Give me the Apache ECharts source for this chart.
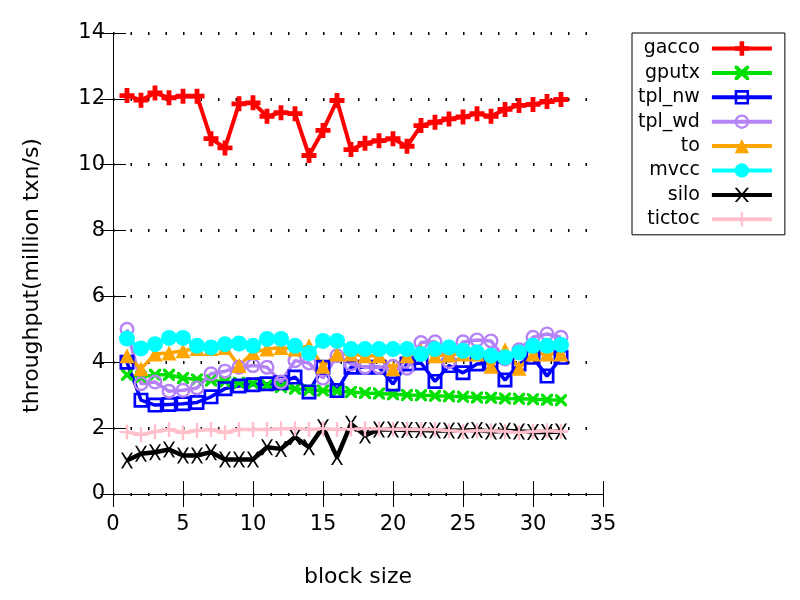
<!DOCTYPE html>
<html>
<head>
<meta charset="utf-8">
<script src="https://cdn.jsdelivr.net/npm/echarts@6/dist/echarts.min.js"></script>
<style>html,body{margin:0;padding:0;background:#fff}#c{width:800px;height:600px}</style>
</head>
<body>
<div id="c"></div>
<script>
const blockSizes = [1,2,3,4,5,6,7,8,9,10,11,12,13,14,15,16,17,18,19,20,21,22,23,24,25,26,27,28,29,30,31,32];
const gacco  = [12.10,11.96,12.18,12.03,12.08,12.08,10.79,10.51,11.85,11.88,11.47,11.58,11.55,10.28,11.04,11.95,10.46,10.65,10.73,10.79,10.56,11.19,11.29,11.39,11.45,11.55,11.47,11.68,11.80,11.83,11.92,11.98];
const gputx  = [3.62,3.55,3.62,3.62,3.52,3.48,3.45,3.42,3.38,3.36,3.30,3.25,3.20,3.16,3.14,3.12,3.10,3.07,3.05,3.03,3.01,3.00,2.98,2.97,2.95,2.93,2.92,2.90,2.89,2.88,2.86,2.85];
const tplNw  = [4.00,2.85,2.70,2.72,2.74,2.78,2.95,3.20,3.28,3.32,3.35,3.38,3.55,3.10,3.85,3.14,3.85,3.85,3.85,3.34,3.95,3.98,3.42,3.90,3.68,3.95,3.98,3.46,3.95,4.15,3.58,4.15];
const tplWd  = [5.00,3.35,3.40,3.12,3.15,3.22,3.65,3.73,3.85,3.90,3.85,3.40,4.05,3.98,3.52,4.20,3.95,3.85,3.85,3.88,3.82,4.60,4.62,4.02,4.62,4.68,4.65,4.10,4.38,4.76,4.86,4.76];
const to     = [4.20,3.80,4.25,4.28,4.35,4.42,4.42,4.45,3.90,4.30,4.40,4.45,4.40,4.50,3.88,4.25,4.25,4.20,4.20,3.80,4.20,4.35,4.20,4.22,4.25,4.25,3.88,4.38,3.82,4.25,4.25,4.25];
const mvcc   = [4.72,4.42,4.55,4.74,4.74,4.50,4.45,4.55,4.57,4.50,4.71,4.71,4.50,4.28,4.65,4.65,4.40,4.40,4.40,4.40,4.40,4.25,4.40,4.45,4.35,4.30,4.20,4.15,4.30,4.50,4.50,4.53];
const silo   = [1.02,1.22,1.27,1.35,1.17,1.17,1.27,1.05,1.05,1.05,1.42,1.37,1.73,1.42,2.03,1.12,2.13,1.78,1.96,1.96,1.94,1.94,1.93,1.93,1.92,1.94,1.90,1.92,1.90,1.88,1.88,1.90];
const tictoc = [1.88,1.80,1.89,1.96,1.86,1.93,1.96,1.86,1.96,1.96,1.96,1.98,1.98,1.96,1.98,1.96,1.97,1.98,1.98,1.97,1.97,1.96,1.96,1.92,1.90,1.92,1.92,1.90,1.86,1.90,1.92,1.90];

const names  = ['gacco','gputx','tpl_nw','tpl_wd','to','mvcc','silo','tictoc'];
const values = [gacco, gputx, tplNw, tplWd, to, mvcc, silo, tictoc];
const colors = ['#ff0000','#00e000','#0000ff','#b583f5','#ffa500','#00ffff','#000000','#ffc0cb'];

const PLUS_THICK = 'path://M-1.6,-5 L1.6,-5 L1.6,-1.6 L5,-1.6 L5,1.6 L1.6,1.6 L1.6,5 L-1.6,5 L-1.6,1.6 L-5,1.6 L-5,-1.6 L-1.6,-1.6 Z';
const PLUS_THIN  = 'path://M-0.8,-5 L0.8,-5 L0.8,-0.8 L5,-0.8 L5,0.8 L0.8,0.8 L0.8,5 L-0.8,5 L-0.8,0.8 L-5,0.8 L-5,-0.8 L-0.8,-0.8 Z';
const X_THICK = 'path://M-5,-5 L-3,-5 L0,-2 L3,-5 L5,-5 L5,-3 L2,0 L5,3 L5,5 L3,5 L0,2 L-3,5 L-5,5 L-5,3 L-2,0 L-5,-3 Z';
const X_LETTER = 'path://M-5,-7 L-3.4,-7 L0,-1.4 L3.4,-7 L5,-7 L0.9,0 L5,7 L3.4,7 L0,1.4 L-3.4,7 L-5,7 L-0.9,0 Z';
const SQ_RING = 'path://M-5,-5 L5,-5 L5,5 L-5,5 Z M-3.2,-3.2 L-3.2,3.2 L3.2,3.2 L3.2,-3.2 Z';
const CIRC_RING = 'path://M0,-5 A5,5 0 1,1 0,5 A5,5 0 1,1 0,-5 Z M0,-3.4 A3.4,3.4 0 1,0 0,3.4 A3.4,3.4 0 1,0 0,-3.4 Z';

const symbols = [PLUS_THICK, X_THICK, SQ_RING, CIRC_RING, 'triangle', 'circle', X_LETTER, PLUS_THIN];
const sizes   = [15, 12, 15, 15, 15, 16, [12,16], 15];
const widths  = [4, 3.5, 3.5, 3.5, 3.5, 3.5, 4.5, 3.5];

const FONT = 'DejaVu Sans';
const gridDash = {color:'#000', width:3, type:[1.5,16]};

const series = names.map((n,i)=>({
  name:n, type:'line',
  data: blockSizes.map((x,j)=>[x, values[i][j]]),
  symbol: symbols[i], symbolSize: sizes[i], showAllSymbol:true,
  itemStyle:{color:colors[i]},
  lineStyle:{color:colors[i], width:widths[i]},
  emphasis:{disabled:true}, animation:false
}));

const chart = echarts.init(document.getElementById('c'), null, {renderer:'canvas'});
chart.setOption({
  backgroundColor:'#fff',
  animation:false,
  textStyle:{fontFamily:FONT},
  grid:{left:113, right:197, top:33, bottom:106, containLabel:false},
  legend:{
    orient:'vertical', align:'right', left:632, top:33,
    padding:[6,11,6,6], itemGap:5.4, itemWidth:60, itemHeight:18,
    borderColor:'#000', borderWidth:1, backgroundColor:'#fff',
    lineStyle:{width:4},
    textStyle:{fontFamily:FONT, fontSize:19, color:'#000', padding:[0,7,0,0]},
    data:names
  },
  xAxis:[{
    type:'value', min:0, max:35, interval:5, position:'bottom',
    name:'block size', nameLocation:'middle', nameGap:72,
    nameTextStyle:{fontFamily:FONT, fontSize:22, color:'#000'},
    axisLine:{lineStyle:{color:'#000', width:1}},
    axisTick:{inside:true, length:13, lineStyle:{color:'#000'}},
    axisLabel:{fontFamily:FONT, fontSize:21, color:'#000', margin:20},
    splitLine:{show:false}
  },{
    type:'value', min:0, max:35, interval:5, position:'top',
    axisLine:{show:true, lineStyle:{color:'#000', width:1}},
    axisTick:{inside:true, length:13, lineStyle:{color:'#000'}},
    axisLabel:{show:false}, splitLine:{show:false}
  }],
  yAxis:[{
    type:'value', min:0, max:14, interval:2, position:'left',
    name:'throughput(million txn/s)', nameLocation:'middle', nameGap:70,
    nameTextStyle:{fontFamily:FONT, fontSize:22, color:'#000', padding:[0,24,0,0]},
    axisLine:{show:true, lineStyle:{color:'#000', width:1}},
    axisTick:{show:true, inside:true, length:13, lineStyle:{color:'#000'}},
    axisLabel:{fontFamily:FONT, fontSize:21, color:'#000', margin:8},
    splitLine:{show:true, lineStyle:gridDash}
  },{
    type:'value', min:0, max:14, interval:2, position:'right',
    axisLine:{show:true, lineStyle:{color:'#000', width:1}},
    axisTick:{show:true, inside:true, length:13, lineStyle:{color:'#000'}},
    axisLabel:{show:false}, splitLine:{show:false}
  }],
  series: series
});
</script>
</body>
</html>
